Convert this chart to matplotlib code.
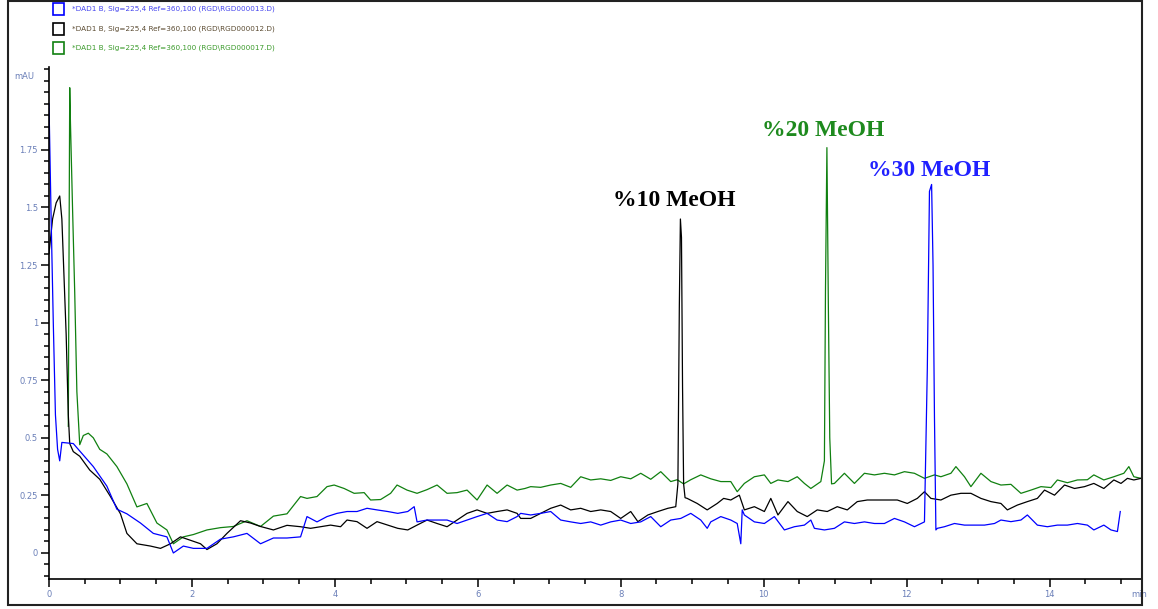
import numpy as np
import matplotlib
matplotlib.use("Agg")
import matplotlib.pyplot as plt
from matplotlib.patches import Rectangle

# chromatogram traces (time in min, signal in mAU)
t_green = [0.27, 0.29, 0.30, 0.33, 0.36, 0.39, 0.43, 0.48, 0.55, 0.62, 0.71, 0.81, 0.95, 1.09,
           1.23, 1.37, 1.51, 1.65, 1.74, 1.88, 2.02, 2.21, 2.40, 2.58, 2.77, 2.96, 3.14, 3.33,
           3.52, 3.61, 3.75, 3.89, 3.99, 4.13, 4.27, 4.41, 4.50, 4.64, 4.78, 4.87, 5.01, 5.15,
           5.29, 5.43, 5.57, 5.71, 5.85, 5.99, 6.13, 6.27, 6.41, 6.55, 6.66, 6.74, 6.88, 7.02,
           7.16, 7.30, 7.44, 7.58, 7.72, 7.86, 8.00, 8.14, 8.28, 8.42, 8.56, 8.70, 8.79, 8.88,
           8.98, 9.12, 9.26, 9.40, 9.54, 9.63, 9.73, 9.87, 10.01, 10.10, 10.20, 10.34, 10.47,
           10.57, 10.66, 10.80, 10.85, 10.865, 10.885, 10.905, 10.925, 10.95, 10.99, 11.13,
           11.27, 11.41, 11.55, 11.69, 11.83, 11.97, 12.11, 12.25, 12.39, 12.48, 12.62, 12.69,
           12.81, 12.90, 13.04, 13.18, 13.32, 13.46, 13.60, 13.74, 13.88, 14.02, 14.11, 14.25,
           14.39, 14.53, 14.62, 14.76, 14.90, 15.04, 15.11, 15.18, 15.28]
v_green = [0.55, 2.02, 1.87, 1.49, 1.13, 0.70, 0.47, 0.51, 0.52, 0.50, 0.45, 0.43, 0.375, 0.30,
           0.20, 0.215, 0.13, 0.10, 0.04, 0.07, 0.08, 0.10, 0.11, 0.115, 0.14, 0.115, 0.16, 0.17,
           0.245, 0.237, 0.245, 0.288, 0.295, 0.28, 0.259, 0.262, 0.23, 0.232, 0.259, 0.295, 0.273,
           0.259, 0.275, 0.295, 0.259, 0.262, 0.273, 0.23, 0.295, 0.259, 0.295, 0.273, 0.28,
           0.288, 0.285, 0.295, 0.302, 0.285, 0.331, 0.317, 0.322, 0.315, 0.331, 0.322, 0.346,
           0.32, 0.353, 0.31, 0.318, 0.30, 0.318, 0.339, 0.322, 0.31, 0.31, 0.266, 0.302, 0.331,
           0.339, 0.302, 0.317, 0.31, 0.331, 0.302, 0.28, 0.31, 0.40, 1.14, 1.76, 1.08, 0.50,
           0.30, 0.302, 0.346, 0.302, 0.346, 0.339, 0.346, 0.339, 0.353, 0.346, 0.324, 0.339,
           0.331, 0.346, 0.375, 0.331, 0.288, 0.346, 0.31, 0.295, 0.298, 0.259, 0.273, 0.288,
           0.284, 0.317, 0.305, 0.317, 0.318, 0.339, 0.317, 0.331, 0.346, 0.375, 0.331, 0.324]

t_black = [0.00, 0.05, 0.10, 0.15, 0.18, 0.21, 0.24, 0.27, 0.29, 0.34, 0.43, 0.57, 0.71, 0.86,
           1.00, 1.09, 1.23, 1.42, 1.56, 1.70, 1.84, 1.98, 2.12, 2.21, 2.35, 2.49, 2.68, 2.82,
           2.96, 3.14, 3.33, 3.52, 3.66, 3.80, 3.94, 4.08, 4.17, 4.31, 4.45, 4.59, 4.74, 4.88,
           5.02, 5.15, 5.29, 5.43, 5.57, 5.71, 5.85, 5.99, 6.13, 6.27, 6.41, 6.55, 6.60, 6.74,
           6.88, 7.02, 7.16, 7.30, 7.44, 7.58, 7.72, 7.86, 8.00, 8.14, 8.24, 8.38, 8.52, 8.66,
           8.77, 8.80, 8.82, 8.835, 8.85, 8.865, 8.88, 8.90, 8.93, 9.07, 9.21, 9.35, 9.44, 9.54,
           9.66, 9.73, 9.87, 10.01, 10.10, 10.20, 10.34, 10.47, 10.61, 10.75, 10.89, 11.03,
           11.17, 11.31, 11.45, 11.59, 11.73, 11.87, 12.01, 12.15, 12.25, 12.34, 12.48, 12.62,
           12.76, 12.90, 13.04, 13.18, 13.32, 13.41, 13.55, 13.69, 13.83, 13.93, 14.07, 14.21,
           14.35, 14.49, 14.62, 14.76, 14.90, 15.00, 15.09, 15.18, 15.28]
v_black = [1.30, 1.45, 1.52, 1.55, 1.45, 1.20, 0.95, 0.60, 0.475, 0.44, 0.42, 0.36, 0.32, 0.245,
           0.17, 0.085, 0.04, 0.03, 0.02, 0.04, 0.07, 0.055, 0.04, 0.015, 0.04, 0.085, 0.14, 0.13,
           0.115, 0.10, 0.12, 0.114, 0.107, 0.114, 0.121, 0.114, 0.143, 0.136, 0.107, 0.136, 0.121,
           0.107, 0.10, 0.121, 0.143, 0.128, 0.114, 0.143, 0.172, 0.187, 0.172, 0.180, 0.187,
           0.172, 0.15, 0.15, 0.172, 0.194, 0.208, 0.187, 0.194, 0.180, 0.187, 0.18, 0.15, 0.18,
           0.136, 0.165, 0.18, 0.194, 0.201, 0.30, 1.07, 1.45, 1.37, 0.72, 0.30, 0.24, 0.237,
           0.215, 0.187, 0.215, 0.237, 0.23, 0.251, 0.187, 0.201, 0.18, 0.237, 0.165, 0.223,
           0.18, 0.158, 0.187, 0.18, 0.201, 0.187, 0.223, 0.23, 0.23, 0.23, 0.23, 0.215, 0.237,
           0.266, 0.237, 0.23, 0.251, 0.259, 0.259, 0.237, 0.223, 0.215, 0.187, 0.208, 0.223,
           0.237, 0.273, 0.251, 0.295, 0.28, 0.288, 0.302, 0.28, 0.317, 0.302, 0.324, 0.317, 0.324]

t_blue = [0.00, 0.03, 0.06, 0.09, 0.12, 0.15, 0.18, 0.34, 0.48, 0.62, 0.81, 0.95, 1.09, 1.28,
          1.46, 1.65, 1.74, 1.88, 2.02, 2.21, 2.40, 2.58, 2.77, 2.96, 3.14, 3.33, 3.52, 3.61,
          3.75, 3.89, 4.03, 4.17, 4.31, 4.45, 4.59, 4.74, 4.88, 5.02, 5.11, 5.15, 5.29, 5.43,
          5.57, 5.71, 5.85, 5.99, 6.13, 6.27, 6.41, 6.55, 6.60, 6.74, 6.88, 7.02, 7.16, 7.30,
          7.44, 7.58, 7.72, 7.86, 8.00, 8.14, 8.28, 8.42, 8.56, 8.70, 8.84, 8.98, 9.12, 9.21,
          9.26, 9.40, 9.54, 9.63, 9.68, 9.70, 9.73, 9.87, 10.01, 10.15, 10.29, 10.43, 10.57,
          10.66, 10.71, 10.85, 10.99, 11.13, 11.27, 11.41, 11.55, 11.69, 11.83, 11.97, 12.11,
          12.25, 12.29, 12.32, 12.35, 12.37, 12.39, 12.41, 12.43, 12.53, 12.67, 12.81, 12.95,
          13.09, 13.23, 13.32, 13.46, 13.60, 13.69, 13.83, 13.97, 14.11, 14.25, 14.39, 14.53,
          14.62, 14.76, 14.86, 14.95, 14.99]
v_blue = [1.95, 1.45, 1.00, 0.60, 0.45, 0.40, 0.48, 0.475, 0.425, 0.375, 0.29, 0.19, 0.17, 0.13,
          0.085, 0.07, 0.00, 0.03, 0.02, 0.02, 0.06, 0.07, 0.085, 0.04, 0.065, 0.065, 0.07, 0.158,
          0.135, 0.158, 0.172, 0.18, 0.18, 0.194, 0.187, 0.18, 0.172, 0.18, 0.201, 0.135, 0.143,
          0.143, 0.143, 0.128, 0.143, 0.158, 0.172, 0.143, 0.136, 0.158, 0.172, 0.165, 0.172,
          0.18, 0.143, 0.135, 0.128, 0.135, 0.121, 0.135, 0.143, 0.128, 0.135, 0.158, 0.114,
          0.143, 0.15, 0.172, 0.143, 0.107, 0.135, 0.158, 0.143, 0.128, 0.04, 0.187, 0.165,
          0.135, 0.128, 0.158, 0.10, 0.114, 0.121, 0.143, 0.107, 0.10, 0.107, 0.135, 0.128,
          0.135, 0.128, 0.128, 0.15, 0.135, 0.114, 0.135, 0.80, 1.57, 1.60, 1.25, 0.59, 0.10,
          0.107, 0.114, 0.128, 0.121, 0.121, 0.121, 0.128, 0.143, 0.136, 0.143, 0.165, 0.121,
          0.114, 0.121, 0.121, 0.128, 0.121, 0.10, 0.121, 0.10, 0.093, 0.18]

legend_labels = [r"*DAD1 B, Sig=225,4 Ref=360,100 (RGD\RGD000013.D)",
                 r"*DAD1 B, Sig=225,4 Ref=360,100 (RGD\RGD000012.D)",
                 r"*DAD1 B, Sig=225,4 Ref=360,100 (RGD\RGD000017.D)"]
peak_labels = ["%10 MeOH", "%20 MeOH", "%30 MeOH"]
peak_pos = [(8.75, 1.53), (10.83, 1.835), (12.31, 1.66)]

c_blue, c_black, c_green = "#0000ff", "#000000", "#108010"

fig = plt.figure(figsize=(11.58, 6.09), dpi=100)
ax = fig.add_axes([49/1158, 1 - 579/609, (1141 - 49)/1158, (579 - 67)/609])

ax.plot(t_green, v_green, color=c_green, lw=0.9)
ax.plot(t_black, v_black, color=c_black, lw=0.9)
ax.plot(t_blue, v_blue, color=c_blue, lw=0.9)

ax.set_xlim(0, 15.28)
ax.set_ylim(-0.113, 2.11)
for s in ["top", "right"]:
    ax.spines[s].set_visible(False)
ax.spines["left"].set_linewidth(1.2)
ax.spines["bottom"].set_linewidth(1.2)

tick_col = "#6a7fb8"
ax.set_xticks([0, 2, 4, 6, 8, 10, 12, 14])
ax.set_xticks(np.arange(0, 15.3, 0.5), minor=True)
ax.set_yticks([0, 0.25, 0.5, 0.75, 1, 1.25, 1.5, 1.75])
ax.set_yticklabels(["0", "0.25", "0.5", "0.75", "1", "1.25", "1.5", "1.75"])
ax.set_yticks(np.arange(-0.1, 2.11, 0.05), minor=True)
ax.tick_params(which="major", length=6, width=1.1, labelsize=6, labelcolor=tick_col, pad=2)
ax.tick_params(which="minor", length=3.5, width=1.1)

ax.text(-0.2, 2.07, "mAU", fontsize=6, color=tick_col, ha="right", va="center")
ax.text(15.25, -0.18, "min", fontsize=6, color=tick_col, ha="center", va="center",
        clip_on=False)

peak_cols = [c_black, "#1e8a1e", "#2020ff"]
for lab, (px, py), col in zip(peak_labels, peak_pos, peak_cols):
    ax.text(px, py, lab, fontsize=17, fontweight="bold", family="Liberation Serif",
            color=col, ha="center", va="center")

# legend at the top, drawn by hand
leg_cols = [c_blue, c_black, c_green]
leg_txt_cols = ["#4444ee", "#5a4a30", "#3a9a2a"]
for i, (lab, col, tcol) in enumerate(zip(legend_labels, leg_cols, leg_txt_cols)):
    yc = 9 + 19.5 * i
    fig.patches.append(Rectangle((53/1158, 1 - (yc + 6)/609), 11/1158, 12/609,
                                 transform=fig.transFigure, fill=False,
                                 edgecolor=col, lw=1.2))
    fig.text(72/1158, 1 - yc/609, lab, fontsize=5.2, color=tcol, va="center",
             family=["Liberation Sans Narrow", "DejaVu Sans"])

# outer frame
fig.patches.append(Rectangle((8/1158, 4/609), 1134/1158, 604/609,
                             transform=fig.transFigure, fill=False,
                             edgecolor="#222222", lw=1.5))

fig.savefig("out.png", dpi=100)
